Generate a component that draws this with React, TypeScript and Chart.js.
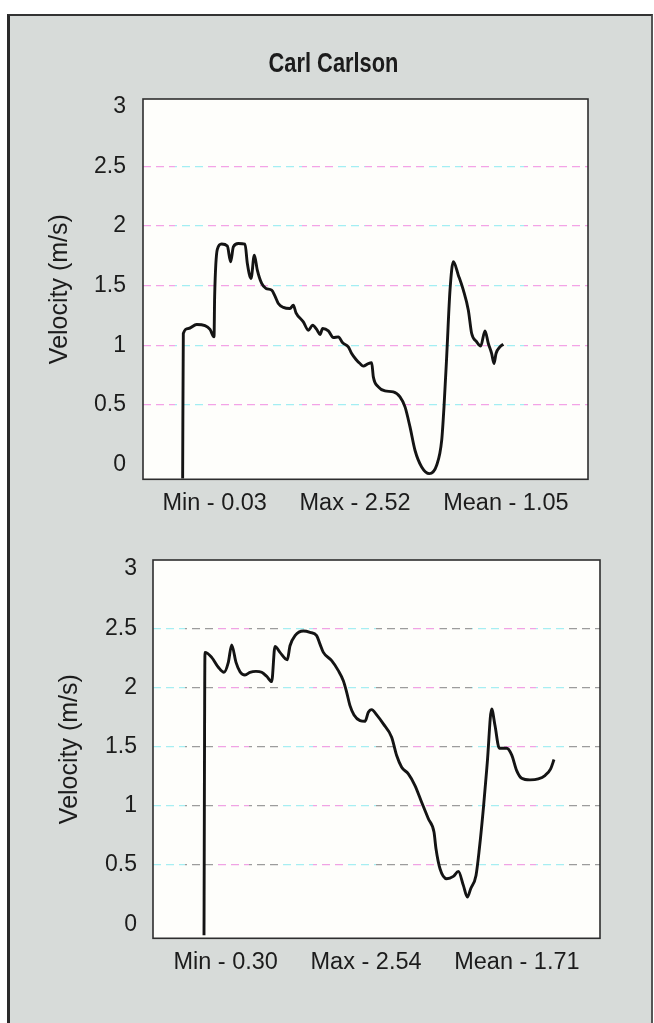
import React, { useEffect, useRef } from "react";
import { Chart, registerables } from "chart.js";

Chart.register(...registerables);

// ---- Data ----
const chartTitle = "Carl Carlson";
const yAxisTitle = "Velocity (m/s)";
const yTickValues = [0, 0.5, 1, 1.5, 2, 2.5, 3];
const statNames = ["Min", "Max", "Mean"];

const statsTop = [0.03, 2.52, 1.05];
const timeTop = [
  8.91, 9.06, 10.19, 12.06, 13.93, 15.06, 15.96, 16.1, 16.7, 17.68, 18.95, 19.7, 20.3, 21.42,
  22.92, 23.45, 24.27, 25.02, 25.69, 26.67, 27.64, 28.91, 29.66, 30.41, 31.54, 33.03, 33.78,
  34.38, 36.03, 37.15, 38.13, 39.03, 39.78, 40.37, 41.65, 42.77, 43.9, 44.87, 46.14, 46.89,
  47.87, 48.76, 49.51, 50.64, 51.39, 51.76, 52.88, 54.38, 56.25, 57.75, 58.88, 60.0, 61.12,
  62.62, 64.34, 65.99, 67.12, 67.64, 68.24, 68.99, 69.74, 70.86, 71.99, 73.11, 73.86, 74.98,
  75.88, 76.85, 77.6, 78.35, 78.88, 79.33, 80.22, 80.97,
];
const velocityTop = [
  -0.12, 1.098, 1.14, 1.174, 1.165, 1.132, 1.07, 1.406, 1.804, 1.849, 1.832, 1.7, 1.826, 1.854,
  1.849, 1.686, 1.56, 1.756, 1.63, 1.518, 1.476, 1.462, 1.412, 1.35, 1.317, 1.308, 1.336,
  1.272, 1.196, 1.126, 1.168, 1.132, 1.09, 1.14, 1.12, 1.064, 1.07, 1.02, 0.986, 0.93,
  0.88, 0.846, 0.824, 0.846, 0.852, 0.734, 0.65, 0.616, 0.608, 0.566, 0.482, 0.314, 0.118,
  -0.022, -0.078, -0.008, 0.2, 0.482, 0.902, 1.462, 1.7, 1.588, 1.462, 1.294, 1.098, 1.028,
  0.992, 1.12, 1.014, 0.93, 0.846, 0.93, 0.986, 1.008,
];

const statsBottom = [0.3, 2.54, 1.71];
const timeBottom = [
  11.41, 11.63, 13.12, 14.62, 15.88, 16.85, 17.6, 18.57, 19.46, 20.58, 21.7, 23.04, 24.31,
  25.43, 26.55, 27.29, 28.41, 30.05, 30.65, 31.77, 33.63, 35.12, 36.61, 37.36, 38.11, 39.97,
  41.46, 42.58, 43.33, 44.07, 44.97, 46.31, 47.43, 48.17, 48.92, 50.04, 51.53, 53.39, 54.51,
  55.63, 57.12, 58.61, 60.1, 61.6, 62.86, 63.31, 64.21, 65.7, 67.19, 68.31, 69.43, 70.32,
  71.07, 72.26, 73.01, 73.9, 74.79, 75.76, 76.51, 77.48, 79.12, 80.24, 81.36, 82.47, 84.34,
  86.2, 87.69, 88.96, 89.71,
];
const velocityBottom = [
  -0.093, 2.296, 2.254, 2.17, 2.128, 2.212, 2.358, 2.212, 2.133, 2.105, 2.128, 2.136, 2.128,
  2.094, 2.049, 2.347, 2.296, 2.234, 2.352, 2.437, 2.476, 2.465, 2.437, 2.366, 2.296, 2.226,
  2.142, 2.057, 1.959, 1.847, 1.768, 1.72, 1.714, 1.79, 1.813, 1.768, 1.692, 1.58, 1.425,
  1.327, 1.27, 1.172, 1.031, 0.891, 0.779, 0.638, 0.469, 0.385, 0.405, 0.447, 0.329, 0.23,
  0.301, 0.413, 0.638, 0.975, 1.369, 1.818, 1.678, 1.487, 1.487, 1.431, 1.298, 1.234, 1.22,
  1.228, 1.256, 1.313, 1.391,
];

// ---- Styling ----
const FONT = "'Liberation Sans', Arial, sans-serif";
const TEXT = "#1c1c1c";

const plotFrame = {
  id: "plotFrame",
  beforeDraw(chart: any) {
    const { ctx, chartArea: a } = chart;
    ctx.save();
    ctx.fillStyle = "#fefefb";
    ctx.fillRect(a.left, a.top, a.right - a.left, a.bottom - a.top);
    ctx.restore();
  },
  afterDatasetsDraw(chart: any) {
    const { ctx, chartArea: a } = chart;
    ctx.save();
    ctx.strokeStyle = "#2e2e2e";
    ctx.lineWidth = 1.6;
    ctx.strokeRect(a.left, a.top, a.right - a.left, a.bottom - a.top);
    ctx.restore();
  },
};

// Condensed bold headline, drawn above the first plot
const headline = {
  id: "headline",
  afterDraw(chart: any, _args: any, opts: any) {
    if (!opts || !opts.text) return;
    const { ctx, chartArea: a } = chart;
    ctx.save();
    ctx.font = `bold 28px ${FONT}`;
    ctx.fillStyle = TEXT;
    ctx.textAlign = "center";
    ctx.textBaseline = "middle";
    const cx = (a.left + a.right) / 2 - 32;
    ctx.translate(cx, a.top - 35);
    ctx.scale(0.78, 1);
    ctx.fillText(opts.text, 0, 0);
    ctx.restore();
  },
};

function makeGridColor(colors: string[]) {
  return (c: any) => {
    const v = c.tick ? c.tick.value : null;
    if (v === 0 || v === 3) return "rgba(0,0,0,0)";
    const chart = c.chart;
    const a = chart.chartArea;
    if (!a) return colors[0];
    const g = chart.ctx.createLinearGradient(a.left, 0, a.right, 0);
    const seg = 14;
    for (let i = 0; i < seg; i++) {
      const col = colors[i % colors.length];
      g.addColorStop(i / seg, col);
      g.addColorStop(Math.min(1, (i + 1) / seg - 0.0001), col);
    }
    return g;
  };
}

function statText(vals: number[]) {
  return statNames.map((n, i) => `${n} - ${vals[i].toFixed(2)}`).join("     ");
}

function makeConfig(p: {
  times: number[];
  values: number[];
  stats: number[];
  yMin: number;
  yMax: number;
  title: string;
  padding: { left: number; right: number; top: number; bottom: number };
  axisWidth: number;
  tickPad: number;
  gridColors: string[];
}): any {
  return {
    type: "line",
    data: {
      datasets: [
        {
          data: p.times.map((t, i) => ({ x: t, y: p.values[i] })),
          borderColor: "#141414",
          borderWidth: 2.9,
          pointRadius: 0,
          fill: false,
          cubicInterpolationMode: "monotone",
        },
      ],
    },
    options: {
      responsive: false,
      animation: false,
      layout: { padding: p.padding },
      plugins: {
        legend: { display: false },
        tooltip: { enabled: false },
        title: { display: false },
        headline: { text: p.title },
      },
      scales: {
        x: {
          type: "linear",
          min: 0,
          max: 100,
          grid: { display: false, drawTicks: false },
          border: { display: false },
          ticks: { display: false },
          title: {
            display: true,
            text: statText(p.stats),
            color: TEXT,
            font: { family: FONT, size: 23.5 },
            padding: { top: 9.9, bottom: 0 },
          },
        },
        y: {
          type: "linear",
          min: p.yMin,
          max: p.yMax,
          afterBuildTicks: (scale: any) => {
            scale.ticks = yTickValues.map((v) => ({ value: v }));
          },
          afterFit: (scale: any) => {
            scale.width = p.axisWidth;
          },
          grid: {
            drawTicks: false,
            lineWidth: 1.3,
            color: makeGridColor(p.gridColors),
          },
          border: { display: false, dash: [8, 5] },
          ticks: {
            padding: p.tickPad,
            color: TEXT,
            font: { family: FONT, size: 23 },
            callback: (v: any) => String(v),
          },
          title: {
            display: true,
            text: yAxisTitle,
            color: TEXT,
            font: { family: FONT, size: 25 },
            padding: { top: 15, bottom: 0 },
          },
        },
      },
    },
    plugins: [plotFrame, headline],
  };
}

function useChart(ref: React.RefObject<HTMLCanvasElement | null>, cfg: () => any) {
  useEffect(() => {
    if (!ref.current) return;
    const chart = new Chart(ref.current, cfg());
    return () => chart.destroy();
  }, []);
}

export default function App() {
  const topRef = useRef<HTMLCanvasElement | null>(null);
  const bottomRef = useRef<HTMLCanvasElement | null>(null);

  useEffect(() => {
    document.body.style.margin = "0";
  }, []);

  useChart(topRef, () =>
    makeConfig({
      times: timeTop,
      values: velocityTop,
      stats: statsTop,
      yMin: -0.126,
      yMax: 3.067,
      title: chartTitle,
      padding: { left: 30, right: 66, top: 99, bottom: 12.6 },
      axisWidth: 113,
      tickPad: 17,
      gridColors: ["#f3a3e6", "#a3eef3", "#f3a3e6", "#f3a3e6", "#a3eef3"],
    })
  );

  useChart(bottomRef, () =>
    makeConfig({
      times: timeBottom,
      values: velocityBottom,
      stats: statsBottom,
      yMin: -0.118,
      yMax: 3.076,
      title: "",
      padding: { left: 40, right: 54, top: 30, bottom: 46.6 },
      axisWidth: 113,
      tickPad: 16,
      gridColors: ["#a6eef2", "#9c9c9c", "#f0a3e4", "#9c9c9c", "#a6eef2", "#f0a3e4"],
    })
  );

  return (
    <div
      style={{
        position: "absolute",
        left: 0,
        top: 0,
        width: 654,
        height: 1023,
        background: "#ffffff",
        overflow: "hidden",
      }}
    >
      <div
        style={{
          position: "absolute",
          left: 7,
          top: 14,
          width: 641,
          height: 1020,
          background: "#d7dbd9",
          borderLeft: "3px solid #2a2a2a",
          borderTop: "2px solid #333",
          borderRight: "2px solid #555",
        }}
      />
      <canvas
        ref={topRef}
        width={654}
        height={530}
        style={{ position: "absolute", left: 0, top: 0, width: 654, height: 530 }}
      />
      <canvas
        ref={bottomRef}
        width={654}
        height={493}
        style={{ position: "absolute", left: 0, top: 530, width: 654, height: 493 }}
      />
    </div>
  );
}
